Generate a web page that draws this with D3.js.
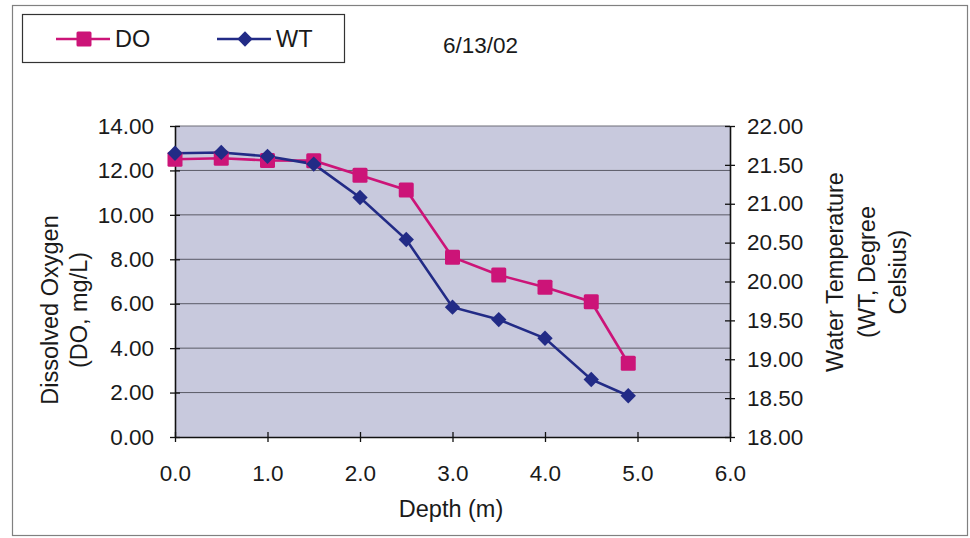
<!DOCTYPE html>
<html>
<head>
<meta charset="utf-8">
<script src="https://cdn.jsdelivr.net/npm/d3@7"></script>
<style>
  html, body { margin: 0; padding: 0; background: #ffffff; }
  svg { display: block; font-family: "Liberation Sans", Arial, sans-serif; }
</style>
</head>
<body>
<svg id="chart" width="970" height="538"></svg>
<script>
// Depth profile measured on 6/13/02
const depths = [0.0, 0.5, 1.0, 1.5, 2.0, 2.5, 3.0, 3.5, 4.0, 4.5, 4.9];
const doValues = [12.50, 12.55, 12.45, 12.44, 11.78, 11.12, 8.09, 7.29, 6.74, 6.09, 3.32];
const wtValues = [21.65, 21.66, 21.61, 21.51, 21.08, 20.54, 19.67, 19.51, 19.27, 18.74, 18.53];
const xTicks = [0, 1, 2, 3, 4, 5, 6];
const leftTicks = [0, 2, 4, 6, 8, 10, 12, 14];
const rightTicks = [18, 18.5, 19, 19.5, 20, 20.5, 21, 21.5, 22];
const chartDate = "6/13/02";

const svg = d3.select("#chart");
const plot = { left: 175, right: 730, top: 126, bottom: 437 };

const x = d3.scaleLinear().domain([0, 6]).range([plot.left, plot.right]);
const yL = d3.scaleLinear().domain([0, 14]).range([plot.bottom, plot.top]);
const yR = d3.scaleLinear().domain([18, 22]).range([plot.bottom, plot.top]);

const pink = "#cc1478";
const blue = "#222b86";
const tickFont = 22.5;
const titleFont = 23.5;
const textColor = "#1a1a1a";

// outer frame
svg.append("rect")
  .attr("x", 12.5).attr("y", 5.5).attr("width", 955).attr("height", 530)
  .attr("fill", "#ffffff").attr("stroke", "#808080").attr("stroke-width", 1.2);

// plot area
svg.append("rect")
  .attr("x", plot.left).attr("y", plot.top)
  .attr("width", plot.right - plot.left).attr("height", plot.bottom - plot.top)
  .attr("fill", "#c8c9dd");

// horizontal gridlines
svg.append("g").selectAll("line")
  .data(leftTicks.filter(d => d > 0 && d < 14))
  .join("line")
  .attr("x1", plot.left).attr("x2", plot.right)
  .attr("y1", d => yL(d)).attr("y2", d => yL(d))
  .attr("stroke", "#5a5a66").attr("stroke-width", 1);

// top border of plot area
svg.append("line")
  .attr("x1", plot.left).attr("x2", plot.right)
  .attr("y1", plot.top).attr("y2", plot.top)
  .attr("stroke", "#6e6e78").attr("stroke-width", 1.2);

function styleAxis(g) {
  g.selectAll(".domain").attr("stroke", "#111").attr("stroke-width", 1.6);
  g.selectAll(".tick line").attr("stroke", "#111").attr("stroke-width", 1.3);
  g.selectAll(".tick text")
    .attr("fill", textColor)
    .attr("font-size", tickFont)
    .attr("font-family", "Liberation Sans, Arial, sans-serif");
}

// left axis
const gL = svg.append("g")
  .attr("transform", `translate(${plot.left},0)`)
  .call(d3.axisLeft(yL).tickValues(leftTicks).tickFormat(d3.format(".2f"))
    .tickSizeInner(5).tickSizeOuter(0).tickPadding(16));
gL.selectAll(".tick line").attr("x2", 5).attr("x1", -5);
styleAxis(gL);

// right axis
const gR = svg.append("g")
  .attr("transform", `translate(${plot.right},0)`)
  .call(d3.axisRight(yR).tickValues(rightTicks).tickFormat(d3.format(".2f"))
    .tickSizeInner(5).tickSizeOuter(0).tickPadding(12));
gR.selectAll(".tick line").attr("x1", -5).attr("x2", 5);
styleAxis(gR);

// bottom axis
const gX = svg.append("g")
  .attr("transform", `translate(0,${plot.bottom})`)
  .call(d3.axisBottom(x).tickValues(xTicks).tickFormat(d3.format(".1f"))
    .tickSizeInner(5).tickSizeOuter(0).tickPadding(23));
gX.selectAll(".tick line").attr("y1", -5).attr("y2", 5);
styleAxis(gX);

// series lines
const lineDO = d3.line().x((d, i) => x(depths[i])).y(d => yL(d));
const lineWT = d3.line().x((d, i) => x(depths[i])).y(d => yR(d));

svg.append("path").datum(doValues)
  .attr("d", lineDO).attr("fill", "none")
  .attr("stroke", pink).attr("stroke-width", 2.6);
svg.append("path").datum(wtValues)
  .attr("d", lineWT).attr("fill", "none")
  .attr("stroke", blue).attr("stroke-width", 2.6);

// markers
const sq = 15;
svg.append("g").selectAll("rect")
  .data(doValues)
  .join("rect")
  .attr("x", (d, i) => x(depths[i]) - sq / 2)
  .attr("y", d => yL(d) - sq / 2)
  .attr("width", sq).attr("height", sq)
  .attr("rx", 1.5)
  .attr("fill", pink);

const diamond = d3.symbol().type(d3.symbolDiamond2).size(150);
svg.append("g").selectAll("path")
  .data(wtValues)
  .join("path")
  .attr("d", diamond)
  .attr("transform", (d, i) => `translate(${x(depths[i])},${yR(d)})`)
  .attr("fill", blue);

// axis titles
svg.append("text")
  .attr("x", 451).attr("y", 517)
  .attr("text-anchor", "middle")
  .attr("font-size", titleFont).attr("fill", textColor)
  .text("Depth (m)");

const leftTitle = svg.append("text")
  .attr("transform", "translate(58,310) rotate(-90)")
  .attr("text-anchor", "middle")
  .attr("font-size", titleFont).attr("fill", textColor);
leftTitle.append("tspan").attr("x", 0).attr("dy", 0).text("Dissolved Oxygen");
leftTitle.append("tspan").attr("x", 0).attr("dy", 29).text("(DO, mg/L)");

const rightTitle = svg.append("text")
  .attr("transform", "translate(843,272) rotate(-90)")
  .attr("text-anchor", "middle")
  .attr("font-size", titleFont).attr("fill", textColor);
rightTitle.append("tspan").attr("x", 0).attr("dy", 0).text("Water Temperature");
rightTitle.append("tspan").attr("x", 0).attr("dy", 31.5).text("(WT, Degree");
rightTitle.append("tspan").attr("x", 0).attr("dy", 31.5).text("Celsius)");

// legend
const legend = svg.append("g");
legend.append("rect")
  .attr("x", 22.5).attr("y", 14.5).attr("width", 322).attr("height", 48)
  .attr("fill", "#ffffff").attr("stroke", "#333").attr("stroke-width", 1.2);

const legendItems = [
  { name: "DO", color: pink, x0: 56, marker: "square" },
  { name: "WT", color: blue, x0: 217, marker: "diamond" }
];
legendItems.forEach(item => {
  const ly = 39;
  legend.append("line")
    .attr("x1", item.x0).attr("x2", item.x0 + 54)
    .attr("y1", ly).attr("y2", ly)
    .attr("stroke", item.color).attr("stroke-width", 2.6);
  if (item.marker === "square") {
    legend.append("rect")
      .attr("x", item.x0 + 28 - sq / 2).attr("y", ly - sq / 2)
      .attr("width", sq).attr("height", sq).attr("rx", 1.5).attr("fill", item.color);
  } else {
    legend.append("path").attr("d", diamond)
      .attr("transform", `translate(${item.x0 + 28},${ly})`)
      .attr("fill", item.color);
  }
  legend.append("text")
    .attr("x", item.x0 + 59).attr("y", ly + 8)
    .attr("font-size", titleFont).attr("fill", textColor)
    .text(item.name);
});

svg.append("text")
  .attr("x", 443).attr("y", 53)
  .attr("font-size", tickFont).attr("fill", textColor)
  .text(chartDate);
</script>
</body>
</html>
